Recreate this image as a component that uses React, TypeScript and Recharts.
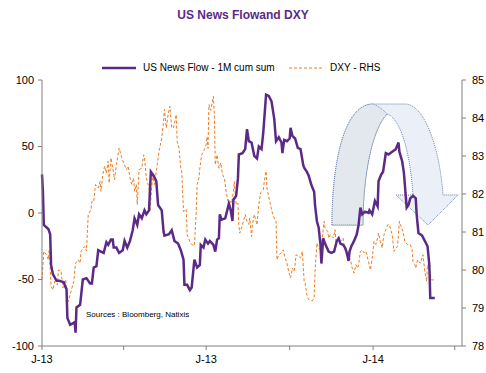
import { LineChart, Line, XAxis, YAxis, Customized } from "recharts";

// Days counted from 1 Jan 2013
const newsDays = [
  0, 1, 2, 7, 9, 10, 12, 16, 19, 24, 26, 27, 28, 31, 34, 36, 37, 38, 42, 45,
  49, 53, 55, 57, 60, 62, 65, 68, 71, 73, 76, 78, 79, 82, 85, 89, 91, 94, 97,
  100, 102, 105, 107, 110, 113, 115, 118, 120, 123, 126, 128, 132, 134, 135,
  140, 143, 146, 150, 153, 156, 157, 160, 163, 165, 168, 171, 174, 175, 178,
  180, 183, 185, 189, 191, 193, 195, 196, 198, 202, 206, 208, 210, 211, 214,
  216, 217, 221, 224, 226, 228, 231, 234, 237, 239, 242, 244, 247, 250, 253,
  256, 258, 261, 264, 265, 267, 270, 273, 274, 276, 279, 282, 285, 288, 289,
  292, 294, 297, 300, 301, 303, 305, 307, 308, 310, 312, 316, 319, 322, 325,
  327, 329, 332, 334, 336, 338, 339, 341, 344, 347, 349, 351, 353, 356, 360,
  361, 364, 367, 370, 371, 374, 376, 379, 382, 386, 390, 393, 394, 397, 399,
  402, 404, 406, 409, 412, 413, 415, 419, 422, 425, 427, 428, 433,
];
const newsValues = [
  29, 16, -9, -12, -16, -39, -46, -51, -51, -52, -56, -57, -79, -84, -83, -82,
  -90, -71, -69, -50, -49, -53, -53, -41, -40, -28, -29, -30, -22, -24, -20,
  -20, -26, -26, -30, -28, -21, -26, -21, -13, -4, -9, -1, -4, 2, -1, 2, 31, 28,
  24, 6, 2, -14, -17, -16, -13, -21, -23, -28, -35, -54, -54, -58, -56, -35,
  -41, -39, -24, -26, -20, -23, -21, -24, -29, -20, -19, -1, -5, -4, 7, 2, -6,
  10, 13, 26, 44, 45, 48, 63, 54, 53, 43, 41, 50, 48, 61, 89, 88, 84, 71, 54,
  57, 53, 45, 55, 54, 56, 64, 58, 56, 49, 48, 36, 34, 31, 28, 21, 16, 6, -6,
  -11, -24, -38, -19, -23, -29, -30, -29, -21, -19, -23, -24, -26, -30, -36,
  -29, -25, -21, -16, -9, 4, -1, 1, 0, 2, -1, 9, 5, 24, 29, 31, 45, 44, 46, 48,
  53, 46, 39, 30, 4, 6, 11, 13, 11, -1, -15, -17, -21, -25, -39, -64, -64,
];

const dxyDays = [
  0, 2, 5, 7, 8, 10, 12, 14, 17, 18, 21, 23, 26, 28, 29, 32, 35, 37, 40, 42,
  43, 47, 49, 51, 54, 55, 57, 59, 62, 64, 65, 67, 69, 71, 73, 74, 76, 78, 80,
  82, 85, 88, 90, 93, 95, 97, 99, 101, 102, 104, 105, 107, 110, 112, 113, 115,
  118, 119, 122, 124, 127, 129, 132, 134, 135, 137, 139, 141, 143, 145, 148,
  149, 151, 153, 154, 156, 159, 160, 163, 165, 168, 170, 171, 173, 174, 176,
  179, 181, 182, 183, 184, 186, 189, 190, 191, 193, 195, 197, 199, 201, 203,
  205, 206, 208, 209, 211, 212, 214, 216, 217, 218, 221, 224, 226, 228, 229,
  231, 232, 234, 237, 239, 241, 244, 245, 247, 248, 249, 251, 254, 256, 258,
  259, 261, 264, 266, 268, 270, 272, 274, 276, 278, 279, 280, 283, 285, 287,
  289, 290, 292, 294, 298, 300, 301, 303, 305, 307, 309, 311, 312, 315, 316,
  318, 321, 323, 324, 327, 329, 332, 333, 336, 338, 340, 342, 344, 346, 348,
  349, 351, 353, 355, 357, 360, 362, 364, 366, 368, 370, 371, 373, 375, 377,
  379, 381, 383, 384, 386, 388, 390, 392, 394, 395, 398, 400, 403, 406, 408,
  409, 411, 412, 414, 417, 420, 422, 424, 425, 427, 429, 432,
];
const dxyValues = [
  79.74, 80.49, 80.4, 80.27, 80.53, 79.57, 79.48, 79.7, 79.61, 80.0, 79.98,
  79.53, 79.74, 79.35, 79.17, 79.44, 79.7, 80.18, 80.27, 80.18, 80.49, 80.62,
  80.5, 81.46, 81.59, 81.81, 81.8, 82.25, 82.16, 82.33, 82.07, 82.51, 82.73,
  82.55, 82.86, 82.29, 82.95, 82.68, 82.38, 82.77, 83.21, 82.95, 82.82, 82.64,
  82.73, 82.42, 82.25, 82.42, 82.07, 82.25, 81.72, 82.64, 82.68, 83.03, 82.95,
  82.42, 82.16, 81.54, 82.51, 82.25, 82.77, 83.12, 83.47, 83.91, 84.22, 83.74,
  84.09, 84.31, 83.74, 83.74, 84.09, 83.39, 83.21, 82.68, 82.6, 81.54, 81.6,
  80.93, 80.75, 80.67, 80.64, 81.54, 82.25, 82.42, 82.68, 83.03, 83.17, 83.3,
  83.51, 83.2, 84.35, 84.2, 84.57, 84.09, 82.77, 83.03, 82.68, 82.82, 82.51,
  82.42, 82.07, 81.81, 81.63, 81.81, 81.76, 82.07, 82.33, 81.72, 81.76, 81.19,
  80.97, 81.19, 81.46, 81.28, 81.2, 81.37, 80.88, 81.19, 81.46, 81.19, 81.72,
  82.03, 82.11, 82.33, 82.6, 82.16, 82.03, 81.81, 81.5, 81.37, 81.28, 80.27,
  80.4, 80.45, 80.53, 80.32, 80.18, 79.96, 79.79, 80.05, 79.96, 80.13, 80.4,
  80.36, 80.32, 80.49, 79.7, 79.66, 79.35, 79.22, 79.19, 79.26, 79.96, 80.71,
  80.58, 80.53, 80.84, 81.28, 81.1, 81.01, 80.84, 80.93, 80.84, 81.06, 80.75,
  80.84, 80.75, 80.84, 80.67, 80.53, 80.36, 80.27, 80.05, 79.92, 80.14, 80.05,
  80.14, 80.49, 80.53, 80.45, 80.49, 80.22, 80.0, 80.31, 80.75, 80.67, 80.84,
  80.97, 80.75, 80.58, 80.93, 81.06, 81.19, 81.19, 81.1, 80.93, 80.49, 80.58,
  80.62, 81.28, 81.2, 81.01, 80.75, 80.67, 80.67, 80.53, 80.22, 80.14, 80.05,
  80.27, 80.18, 80.4, 79.96, 79.7, 80.14, 80.0, 79.74, 79.74,
];

const xTicks = [0, 90, 181, 273, 365, 455];
const xTickLabels: Record<number, string> = { 0: "J-13", 181: "J-13", 365: "J-14" };
const leftTicks = [-100, -50, 0, 50, 100];
const rightTicks = [78, 79, 80, 81, 82, 83, 84, 85];

const newsData = newsDays.map((d, i) => ({ day: d, v: newsValues[i] }));
const dxyData = dxyDays.map((d, i) => ({ day: d, v: dxyValues[i] }));

const PURPLE = "#5B2A86";
const ORANGE = "#F07C22";
const FONT = "'Liberation Sans', Arial, sans-serif";
const tickStyle = { fontSize: 11, fill: "#000", fontFamily: FONT };

// decorative curved arrow drawn behind the lines
const Arrow = () => (
  <g>
    <path
      d="M332 225 C332 160 345 104 373 104 L405 104 C425 104 440 150 443 195 L458 195 L428 225 L396 195 L413 195 C410 150 400 118 387 114 C372 130 363 175 363 225 Z"
      fill="#EBF0F8"
      stroke="#6C84A8"
      strokeWidth={1}
      strokeDasharray="1 1"
    />
    <path
      d="M332 225 C332 160 345 104 373 104 Q381 107 387 114 C372 130 363 175 363 225 Z"
      fill="#E3E7EE"
      stroke="#6C84A8"
      strokeWidth={1}
      strokeDasharray="1 1"
    />
  </g>
);

export default function App() {
  return (
    <div style={{ position: "absolute", left: 0, top: 0, width: 486, height: 373, background: "#fff", fontFamily: FONT }}>
      <div style={{ position: "absolute", left: 0, top: 8, width: 486, textAlign: "center", fontSize: 12, fontWeight: "bold", color: PURPLE }}>
        US News Flowand DXY
      </div>
      <div style={{ position: "absolute", top: 62, left: 0, width: 486, fontSize: 10, color: "#000" }}>
        <svg width={40} height={12} style={{ position: "absolute", left: 102, top: 0 }}>
          <line x1={0} y1={6} x2={34} y2={6} stroke={PURPLE} strokeWidth={2.5} />
        </svg>
        <span style={{ position: "absolute", left: 143, top: 0 }}>US News Flow - 1M cum sum</span>
        <svg width={40} height={12} style={{ position: "absolute", left: 289, top: 0 }}>
          <line x1={0} y1={6} x2={34} y2={6} stroke={ORANGE} strokeWidth={1} strokeDasharray="3 2" />
        </svg>
        <span style={{ position: "absolute", left: 330, top: 0 }}>DXY - RHS</span>
      </div>
      <div style={{ position: "absolute", left: 86, top: 310, fontSize: 8, color: "#000" }}>
        Sources : Bloomberg, Natixis
      </div>
      <div style={{ position: "absolute", left: 0, top: 0 }}>
        <LineChart width={486} height={373} margin={{ top: 80, right: 0, bottom: 0, left: 0 }}>
          <Customized component={Arrow} />
          <XAxis
            dataKey="day"
            type="number"
            domain={[0, 463]}
            ticks={xTicks}
            tickFormatter={(t: number) => xTickLabels[t] ?? ""}
            height={27}
            tick={tickStyle}
            tickSize={4}
            tickMargin={5}
            stroke="#808080"
            allowDuplicatedCategory={false}
          />
          <YAxis
            yAxisId="left"
            width={42}
            domain={[-100, 100]}
            ticks={leftTicks}
            tick={tickStyle}
            tickSize={4}
            tickMargin={4}
            stroke="#808080"
          />
          <YAxis
            yAxisId="right"
            orientation="right"
            width={24}
            domain={[78, 85]}
            ticks={rightTicks}
            tick={tickStyle}
            tickSize={4}
            tickMargin={6}
            stroke="#808080"
          />
          <Line
            yAxisId="right"
            data={dxyData}
            dataKey="v"
            stroke={ORANGE}
            strokeWidth={1}
            strokeDasharray="3 2"
            dot={false}
            isAnimationActive={false}
          />
          <Line
            yAxisId="left"
            data={newsData}
            dataKey="v"
            stroke={PURPLE}
            strokeWidth={2.5}
            dot={false}
            isAnimationActive={false}
          />
        </LineChart>
      </div>
    </div>
  );
}
